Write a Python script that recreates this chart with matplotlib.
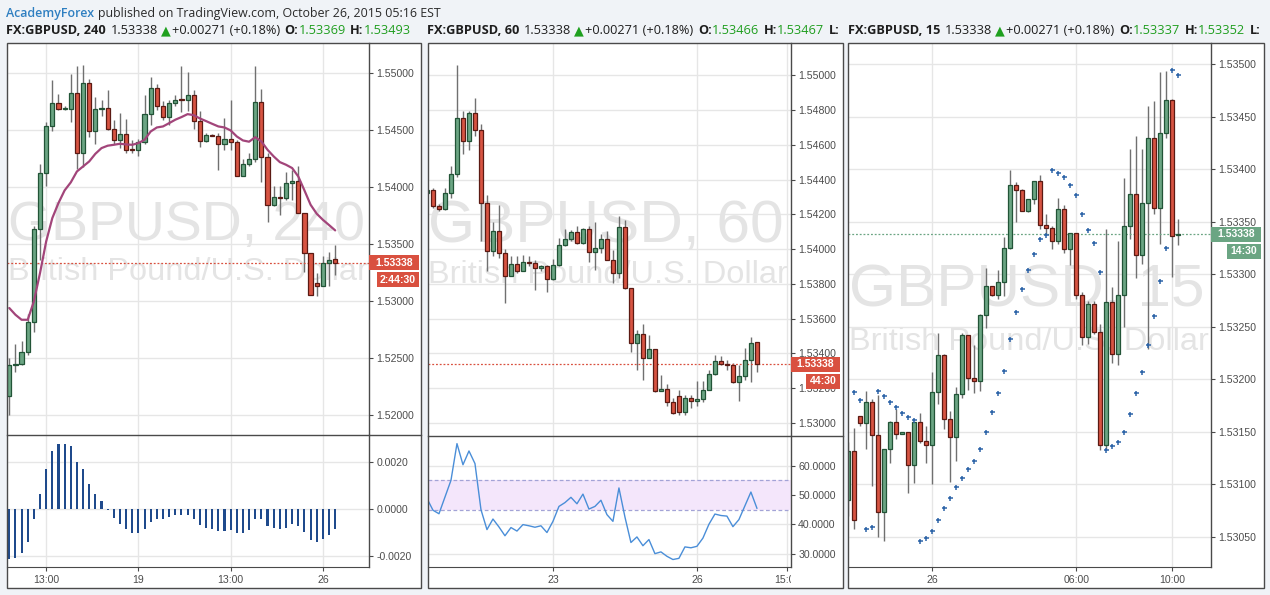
import numpy as np
import matplotlib
matplotlib.use('Agg')
import matplotlib.pyplot as plt
from matplotlib.patches import Rectangle
from matplotlib.lines import Line2D
from matplotlib.transforms import Bbox, TransformedBbox

# ---------------- DATA ----------------
# 240-minute panel
p240_open = [1.52167, 1.52444, 1.52450, 1.52556, 1.52819, 1.53637, 1.54126, 1.54538, 1.54740, 1.54687,
             1.54687, 1.54827, 1.54301, 1.54915, 1.54494, 1.54687, 1.54696, 1.54512, 1.54418, 1.54468,
             1.54336, 1.54330, 1.54395, 1.54643, 1.54871, 1.54711, 1.54617, 1.54740, 1.54769, 1.54769,
             1.54813, 1.54585, 1.54406, 1.54459, 1.54447, 1.54380, 1.54427, 1.54398, 1.54102, 1.54205,
             1.54251, 1.54748, 1.54263, 1.53845, 1.53915, 1.53906, 1.54038, 1.54053, 1.53775, 1.53424,
             1.53158, 1.53131, 1.53336, 1.53369]
p240_high = [1.52503, 1.52629, 1.52649, 1.52892, 1.53658, 1.54207, 1.54570, 1.54939, 1.54822, 1.54711,
             1.54997, 1.55061, 1.55076, 1.54953, 1.54792, 1.54769, 1.54857, 1.54594, 1.54652, 1.54599,
             1.54418, 1.54424, 1.54813, 1.54965, 1.54909, 1.54760, 1.54769, 1.54813, 1.55061, 1.55009,
             1.54857, 1.54667, 1.54477, 1.54465, 1.54477, 1.54608, 1.54769, 1.54418, 1.54248, 1.54306,
             1.55061, 1.54865, 1.54306, 1.54009, 1.54009, 1.54132, 1.54155, 1.54190, 1.53775, 1.53424,
             1.53248, 1.53395, 1.53430, 1.53493]
p240_low = [1.52006, 1.52377, 1.52444, 1.52532, 1.52731, 1.53365, 1.54009, 1.54491, 1.54675, 1.54681,
            1.54570, 1.54161, 1.54175, 1.54441, 1.54383, 1.54623, 1.54500, 1.54383, 1.54345, 1.54301,
            1.54301, 1.54278, 1.54383, 1.54550, 1.54675, 1.54594, 1.54547, 1.54711, 1.54658, 1.54667,
            1.54512, 1.54351, 1.54395, 1.54447, 1.54149, 1.54330, 1.54330, 1.54097, 1.54097, 1.54190,
            1.54219, 1.54044, 1.53693, 1.53833, 1.53760, 1.53892, 1.53886, 1.53775, 1.53254, 1.53055,
            1.53044, 1.53131, 1.53131, 1.53234]
p240_close = [1.52444, 1.52450, 1.52556, 1.52819, 1.53637, 1.54126, 1.54538, 1.54740, 1.54687, 1.54690,
              1.54827, 1.54301, 1.54915, 1.54494, 1.54687, 1.54696, 1.54512, 1.54418, 1.54468, 1.54330,
              1.54330, 1.54395, 1.54643, 1.54871, 1.54711, 1.54617, 1.54740, 1.54769, 1.54763, 1.54813,
              1.54585, 1.54406, 1.54459, 1.54453, 1.54380, 1.54427, 1.54398, 1.54102, 1.54205, 1.54251,
              1.54748, 1.54263, 1.53845, 1.53915, 1.53906, 1.54038, 1.54053, 1.53775, 1.53424, 1.53055,
              1.53131, 1.53336, 1.53365, 1.53338]
p240_ma = [1.52942, 1.52883, 1.52839, 1.52839, 1.53000, 1.53249, 1.53526, 1.53731, 1.53863, 1.53974,
           1.54044, 1.54140, 1.54184, 1.54228, 1.54295, 1.54345, 1.54366, 1.54374, 1.54383, 1.54377,
           1.54374, 1.54389, 1.54418, 1.54491, 1.54526, 1.54535, 1.54564, 1.54594, 1.54617, 1.54643,
           1.54634, 1.54605, 1.54582, 1.54558, 1.54535, 1.54526, 1.54500, 1.54447, 1.54412, 1.54401,
           1.54441, 1.54403, 1.54330, 1.54272, 1.54222, 1.54199, 1.54170, 1.54096, 1.53974, 1.53848,
           1.53769, 1.53716, 1.53670, 1.53623]
p240_hist = [-0.00214, -0.00210, -0.00189, -0.00143, -0.00043, 0.00066, 0.00173, 0.00250, 0.00280, 0.00280,
             0.00271, 0.00200, 0.00173, 0.00109, 0.00066, 0.00033, -0.00006, -0.00040, -0.00063, -0.00087,
             -0.00104, -0.00104, -0.00087, -0.00057, -0.00043, -0.00044, -0.00036, -0.00027, -0.00027, -0.00027,
             -0.00044, -0.00070, -0.00083, -0.00086, -0.00096, -0.00096, -0.00091, -0.00104, -0.00104, -0.00091,
             -0.00044, -0.00044, -0.00074, -0.00083, -0.00086, -0.00079, -0.00066, -0.00074, -0.00100, -0.00134,
             -0.00143, -0.00130, -0.00109, -0.00087]
p240_xticks = [6, 21, 36, 51]
p240_xlabels = ['13:00', '19', '13:00', '26']
p240_yticks = [1.52, 1.525, 1.53, 1.535, 1.54, 1.545, 1.55]
p240_hticks = [-0.002, 0.0, 0.002]

# 60-minute panel
p60_open = [1.54323, 1.54342, 1.54250, 1.54231, 1.54323, 1.54432, 1.54755, 1.54622, 1.54783, 1.54687,
            1.54266, 1.53990, 1.54105, 1.53978, 1.53844, 1.53915, 1.53873, 1.53926, 1.53920, 1.53892,
            1.53905, 1.53828, 1.53909, 1.54024, 1.54059, 1.54099, 1.54036, 1.54116, 1.53984, 1.54007,
            1.54059, 1.53940, 1.53863, 1.54128, 1.53777, 1.53460, 1.53514, 1.53374, 1.53426, 1.53182,
            1.53196, 1.53119, 1.53154, 1.53063, 1.53144, 1.53125, 1.53138, 1.53192, 1.53282, 1.53357,
            1.53339, 1.53336, 1.53236, 1.53272, 1.53364, 1.53466]
p60_high = [1.54346, 1.54350, 1.54262, 1.54352, 1.54477, 1.55061, 1.54797, 1.54793, 1.54870, 1.54722,
            1.54314, 1.54154, 1.54256, 1.54001, 1.53959, 1.53963, 1.53968, 1.53959, 1.53940, 1.53911,
            1.53911, 1.53945, 1.54064, 1.54116, 1.54112, 1.54135, 1.54120, 1.54131, 1.54154, 1.54089,
            1.54106, 1.53997, 1.54189, 1.54166, 1.53777, 1.53537, 1.53572, 1.53508, 1.53426, 1.53278,
            1.53226, 1.53144, 1.53188, 1.53161, 1.53163, 1.53240, 1.53240, 1.53307, 1.53393, 1.53387,
            1.53364, 1.53345, 1.53336, 1.53432, 1.53493, 1.53467]
p60_low = [1.54319, 1.54237, 1.54218, 1.54227, 1.54294, 1.54415, 1.54549, 1.54569, 1.54649, 1.54045,
           1.53873, 1.53959, 1.53949, 1.53690, 1.53844, 1.53863, 1.53873, 1.53901, 1.53763, 1.53873,
           1.53754, 1.53825, 1.53905, 1.54020, 1.54045, 1.54032, 1.54032, 1.53924, 1.53882, 1.53978,
           1.53936, 1.53805, 1.53834, 1.53771, 1.53407, 1.53307, 1.53249, 1.53374, 1.53178, 1.53182,
           1.53100, 1.53054, 1.53048, 1.53048, 1.53086, 1.53096, 1.53119, 1.53188, 1.53278, 1.53336,
           1.53307, 1.53230, 1.53125, 1.53249, 1.53236, 1.53294]
p60_close = [1.54339, 1.54250, 1.54231, 1.54323, 1.54432, 1.54755, 1.54622, 1.54783, 1.54687, 1.54266,
             1.53990, 1.54105, 1.53978, 1.53844, 1.53915, 1.53873, 1.53926, 1.53920, 1.53892, 1.53905,
             1.53828, 1.53909, 1.54024, 1.54059, 1.54099, 1.54036, 1.54116, 1.53984, 1.54007, 1.54059,
             1.53940, 1.53863, 1.54128, 1.53777, 1.53460, 1.53514, 1.53374, 1.53426, 1.53182, 1.53196,
             1.53119, 1.53058, 1.53063, 1.53144, 1.53125, 1.53138, 1.53192, 1.53282, 1.53357, 1.53339,
             1.53336, 1.53236, 1.53272, 1.53364, 1.53460, 1.53338]
p60_rsi = [48.8, 44.8, 43.6, 49.3, 55.0, 67.5, 60.3, 65.0, 60.7, 45.0,
           38.2, 41.8, 39.1, 36.1, 38.9, 37.7, 39.9, 39.5, 39.0, 39.5,
           37.2, 41.0, 46.1, 47.4, 49.2, 47.0, 50.3, 45.2, 46.1, 48.2,
           43.3, 41.0, 52.4, 42.5, 33.8, 35.7, 32.7, 34.8, 30.0, 30.6,
           29.1, 28.0, 28.4, 32.3, 32.0, 32.5, 35.3, 40.0, 43.5, 43.0,
           42.8, 39.2, 41.6, 46.3, 51.0, 45.5]
p60_xticks = [21, 45, 60]
p60_xlabels = ['23', '26', '15:00']
p60_yticks = [1.530, 1.532, 1.534, 1.536, 1.538, 1.540, 1.542, 1.544, 1.546, 1.548, 1.550]
p60_rticks = [30, 40, 50, 60]
p60_band = [45, 55]

# 15-minute panel
p15_open = [1.53085, 1.53131, 1.53165, 1.53158, 1.53178, 1.53147, 1.53073, 1.53133, 1.53159, 1.53148,
            1.53150, 1.53118, 1.53159, 1.53141, 1.53137, 1.53188, 1.53223, 1.53162, 1.53145, 1.53186,
            1.53242, 1.53201, 1.53198, 1.53261, 1.53289, 1.53280, 1.53292, 1.53325, 1.53385, 1.53380,
            1.53360, 1.53371, 1.53389, 1.53347, 1.53344, 1.53331, 1.53362, 1.53324, 1.53339, 1.53280,
            1.53240, 1.53271, 1.53245, 1.53137, 1.53273, 1.53224, 1.53280, 1.53346, 1.53376, 1.53318,
            1.53368, 1.53430, 1.53363, 1.53434, 1.53466, 1.53337]
p15_high = [1.53140, 1.53153, 1.53165, 1.53189, 1.53181, 1.53185, 1.53133, 1.53160, 1.53171, 1.53150,
            1.53150, 1.53159, 1.53168, 1.53155, 1.53207, 1.53244, 1.53224, 1.53170, 1.53192, 1.53244,
            1.53242, 1.53232, 1.53262, 1.53306, 1.53289, 1.53304, 1.53335, 1.53399, 1.53388, 1.53381,
            1.53371, 1.53389, 1.53394, 1.53357, 1.53346, 1.53372, 1.53366, 1.53339, 1.53339, 1.53283,
            1.53274, 1.53274, 1.53252, 1.53343, 1.53288, 1.53331, 1.53391, 1.53419, 1.53431, 1.53419,
            1.53460, 1.53465, 1.53492, 1.53493, 1.53467, 1.53352]
p15_low = [1.53070, 1.53057, 1.53155, 1.53133, 1.53098, 1.53050, 1.53046, 1.53120, 1.53143, 1.53148,
           1.53091, 1.53101, 1.53139, 1.53120, 1.53100, 1.53176, 1.53152, 1.53102, 1.53122, 1.53182,
           1.53190, 1.53187, 1.53189, 1.53249, 1.53279, 1.53276, 1.53279, 1.53324, 1.53350, 1.53360,
           1.53359, 1.53367, 1.53343, 1.53338, 1.53324, 1.53329, 1.53320, 1.53309, 1.53276, 1.53232,
           1.53233, 1.53243, 1.53132, 1.53132, 1.53215, 1.53213, 1.53250, 1.53333, 1.53296, 1.53310,
           1.53229, 1.53357, 1.53329, 1.53430, 1.53297, 1.53328]
p15_close = [1.53131, 1.53066, 1.53158, 1.53178, 1.53147, 1.53073, 1.53133, 1.53159, 1.53148, 1.53150,
             1.53118, 1.53159, 1.53141, 1.53137, 1.53188, 1.53223, 1.53162, 1.53145, 1.53186, 1.53242,
             1.53201, 1.53198, 1.53261, 1.53289, 1.53280, 1.53292, 1.53325, 1.53385, 1.53380, 1.53360,
             1.53371, 1.53389, 1.53347, 1.53344, 1.53331, 1.53362, 1.53324, 1.53339, 1.53280, 1.53240,
             1.53271, 1.53245, 1.53137, 1.53273, 1.53224, 1.53280, 1.53346, 1.53376, 1.53318, 1.53368,
             1.53430, 1.53363, 1.53434, 1.53466, 1.53336, 1.53338]
p15_psar = [np.nan, 1.53188, 1.53180, 1.53057, 1.53059, 1.53189, 1.53184, 1.53178, 1.53173, 1.53168,
            1.53164, 1.53161, 1.53046, 1.53049, 1.53055, 1.53066, 1.53077, 1.53087, 1.53097, 1.53106,
            1.53114, 1.53122, 1.53133, 1.53150, 1.53169, 1.53187, 1.53208, 1.53238, 1.53264, 1.53286,
            1.53304, 1.53319, 1.53333, 1.53337, 1.53399, 1.53396, 1.53392, 1.53385, 1.53375, 1.53357,
            1.53342, 1.53330, 1.53302, 1.53132, 1.53136, 1.53140, 1.53150, 1.53167, 1.53187, 1.53207,
            1.53232, 1.53260, 1.53293, 1.53325, 1.53494, 1.53490]
p15_xticks = [14, 38, 54]
p15_xlabels = ['26', '06:00', '10:00']
p15_yticks = [1.5305, 1.5310, 1.5315, 1.5320, 1.5325, 1.5330, 1.5335, 1.5340, 1.5345, 1.5350]

last_price = 1.53338
timers = ['2:44:30', '44:30', '14:30']

# ---------------- STYLE ----------------
W, H = 1270, 595
BG = '#f0f3f7'
GREEN, GREEN_E = '#6ba583', '#225437'
RED, RED_E = '#d75442', '#5b1a13'
WICK = '#707070'
GRID = '#e6e6e6'
AXC = '#4a4a4a'
LBL = '#4d4d4d'
WM = '#e4e4e4'
TXT = '#1e1e1e'
VALG = '#1f9e1f'

plt.rcParams['font.family'] = ['Liberation Sans', 'DejaVu Sans']

fig = plt.figure(figsize=(W / 100, H / 100), dpi=100, facecolor=BG)


def fbox(x0, y0, x1, y1):
    return [x0 / W, 1 - y1 / H, (x1 - x0) / W, (y1 - y0) / H]


def fig_line(x0, y0, x1, y1, color=AXC, lw=1.0):
    fig.add_artist(Line2D([x0 / W, x1 / W], [1 - y0 / H, 1 - y1 / H], transform=fig.transFigure,
                          color=color, lw=lw, zorder=6))


def panel_box(x0, x1, y0=43, y1=588):
    fig.add_artist(Rectangle((x0 / W, 1 - y1 / H), (x1 - x0) / W, (y1 - y0) / H, transform=fig.transFigure,
                             facecolor='white', edgecolor='none', zorder=-2))
    fig.add_artist(Rectangle((x0 / W, 1 - y1 / H), (x1 - x0) / W, (y1 - y0) / H, transform=fig.transFigure,
                             facecolor='none', edgecolor=AXC, lw=1.0, zorder=7))


def style_axes(ax, xlim, ylim, xticks, yticks, yfmt, bottom=False, xlabels=None):
    ax.set_facecolor('white')
    ax.set_xlim(*xlim)
    ax.set_ylim(*ylim)
    ax.yaxis.tick_right()
    ax.set_yticks(yticks)
    ax.set_yticklabels([yfmt.format(v) for v in yticks])
    ax.set_xticks(xticks)
    for s in ['left', 'top', 'bottom']:
        ax.spines[s].set_visible(False)
    ax.spines['right'].set_color(AXC)
    ax.spines['right'].set_linewidth(1.0)
    ax.tick_params(axis='y', direction='out', length=3, width=0.8, color=AXC, pad=2.5,
                   labelsize=7.6, labelcolor=LBL)
    if bottom:
        ax.spines['bottom'].set_visible(True)
        ax.spines['bottom'].set_color(AXC)
        ax.set_xticklabels(xlabels)
        ax.tick_params(axis='x', direction='out', length=3, width=0.8, color=AXC, pad=3,
                       labelsize=7.6, labelcolor=LBL)
    else:
        ax.tick_params(axis='x', length=0, labelbottom=False)
    ax.grid(True, color=GRID, lw=1.0)
    ax.set_axisbelow(True)


def draw_candles(ax, o, h, l, c, width, minh):
    o, h, l, c = map(np.asarray, (o, h, l, c))
    x = np.arange(len(o))
    up = c >= o
    ax.vlines(x, l, h, color=WICK, lw=1.0, zorder=2)
    bottoms = np.minimum(o, c)
    heights = np.maximum(np.abs(c - o), minh)
    ax.bar(x[up], heights[up], width, bottoms[up], color=GREEN, edgecolor=GREEN_E, lw=0.9, zorder=3)
    ax.bar(x[~up], heights[~up], width, bottoms[~up], color=RED, edgecolor=RED_E, lw=0.9, zorder=3)


def watermark(ax, box, x_px, base1, base2, title, size1):
    ax_x0, ax_y0, ax_x1, ax_y1 = box
    def ax_coords(xp, yp):
        return (xp - ax_x0) / (ax_x1 - ax_x0), 1 - (yp - ax_y0) / (ax_y1 - ax_y0)
    xa, ya = ax_coords(x_px, base1)
    ax.text(xa, ya, title, transform=ax.transAxes, fontsize=size1, color=WM, va='baseline', ha='left',
            family='Liberation Sans', zorder=0.8, clip_on=True)
    xa, ya = ax_coords(x_px, base2)
    ax.text(xa, ya, 'British Pound/U.S. Dollar', transform=ax.transAxes, fontsize=23.4, color=WM,
            va='baseline', ha='left', family='Liberation Sans', zorder=0.8, clip_on=True)


def price_labels(ax, price, x_axis_px, right_px, w2, color, timer):
    fig.canvas.draw()
    _, yd = ax.transData.transform((0, price))
    inv = fig.transFigure.inverted()
    hbox = 15
    y_top = H - yd - hbox / 2  # pixel from top
    def rect(x0, x1, yt, yb, txt):
        (fx0, fy0) = inv.transform((x0, H - yb))
        (fx1, fy1) = inv.transform((x1, H - yt))
        fig.add_artist(Rectangle((fx0, fy0), fx1 - fx0, fy1 - fy0, transform=fig.transFigure,
                                 facecolor=color, edgecolor='none', zorder=8))
        fig.text((fx0 + fx1) / 2, (fy0 + fy1) / 2, txt, ha='center', va='center', color='white',
                 fontsize=7.6, fontweight='bold', zorder=9)
    rect(x_axis_px, right_px, y_top, y_top + hbox, '{:.5f}'.format(price))
    rect(right_px - w2, right_px, y_top + hbox + 2, y_top + 2 * hbox + 2, timer)
    ax.axhline(price, color=color, lw=0.9, ls=(0, (1.5, 1.5)), zorder=2.5)


def header(x0, x1, y0, y1, pieces, size):
    hax = fig.add_axes(fbox(x0, y0, x1, y1))
    hax.axis('off')
    hax.set_xlim(0, 1)
    hax.set_ylim(0, 1)
    prev = None
    for s, weight, color, gap, fam in pieces:
        kw = dict(fontsize=size, fontweight=weight, color=color, family=fam, va='center', ha='left')
        if prev is None:
            t = hax.text(0, 0.5, s, clip_on=True, **kw)
        else:
            t = hax.annotate(s, xy=(1, 0.5), xycoords=prev, xytext=(gap, 0), textcoords='offset points',
                             annotation_clip=False, **kw)
            t.set_clip_on(True)
            t.set_clip_path(hax.patch)
        prev = t


OS = ['Open Sans', 'DejaVu Sans']
TRI = ['DejaVu Sans']

# ---------- line 1 ----------
header(6, 1260, 4, 22, [
    ('AcademyForex', 'semibold', '#2f7fc1', 0, OS),
    ('published on TradingView.com, October 26, 2015 05:16 EST', 'normal', '#2a2a2a', 2.5, OS),
], 8.95)


def ohlc_header(x0, x1, name, o, h, show_low_label=True):
    pieces = [
        (name, 'bold', TXT, 0, OS),
        ('{:.5f}'.format(last_price), 'normal', TXT, 3.3, OS),
        ('\u25b2', 'normal', '#1fa01f', 2.2, TRI),
        ('+0.00271 (+0.18%)', 'normal', TXT, 1.0, OS),
        ('O:', 'bold', TXT, 3.3, OS),
        ('{:.5f}'.format(o), 'normal', VALG, 0, OS),
        ('H:', 'bold', TXT, 3.3, OS),
        ('{:.5f}'.format(h), 'normal', VALG, 0, OS),
    ]
    if show_low_label:
        pieces += [('L:', 'bold', TXT, 3.3, OS)]
    header(x0, x1, 22, 40, pieces, 9.2)


ohlc_header(6, 421, 'FX:GBPUSD, 240', p240_open[-1], p240_high[-1], show_low_label=False)
ohlc_header(427, 842, 'FX:GBPUSD, 60', p60_open[-1], p60_high[-1])
ohlc_header(848, 1265, 'FX:GBPUSD, 15', p15_open[-1], p15_high[-1])

# ---------- panel 1 (240) ----------
panel_box(7, 421)
b1 = (7, 43, 369, 435)
ax1 = fig.add_axes(fbox(*b1))
x1lim = (-0.37, 58.5)
style_axes(ax1, x1lim, (1.51828, 1.55267), p240_xticks, p240_yticks, '{:.5f}')
watermark(ax1, b1, 8, 240, 280, 'GBPUSD, 240', 40)
draw_candles(ax1, p240_open, p240_high, p240_low, p240_close, 0.68, 0.00009)
ax1.plot(np.arange(len(p240_ma)), p240_ma, color='#a2457a', lw=1.6, zorder=4, solid_capstyle='round')

b1i = (7, 435, 369, 567)
ax1i = fig.add_axes(fbox(*b1i))
style_axes(ax1i, x1lim, (-0.00248, 0.00317), p240_xticks, p240_hticks, '{:.4f}', bottom=True,
           xlabels=p240_xlabels)
ax1i.bar(np.arange(len(p240_hist)), p240_hist, 0.34, color='#1f4a8c', zorder=3)
fig_line(7, 435, 421, 435)

# ---------- panel 2 (60) ----------
panel_box(427.5, 843)
b2 = (427.7, 43, 790.5, 436)
ax2 = fig.add_axes(fbox(*b2))
x2lim = (0.12, 60.6)
style_axes(ax2, x2lim, (1.52925, 1.55186), p60_xticks, p60_yticks, '{:.5f}')
watermark(ax2, b2, 428, 243, 283, 'GBPUSD, 60', 43.5)
draw_candles(ax2, p60_open, p60_high, p60_low, p60_close, 0.68, 0.00006)

b2i = (427.7, 436, 790.5, 567)
ax2i = fig.add_axes(fbox(*b2i))
style_axes(ax2i, x2lim, (25.45, 70.1), p60_xticks, p60_rticks, '{:.4f}', bottom=True, xlabels=p60_xlabels)
ax2i.axhspan(p60_band[0], p60_band[1], color='#f4e6fb', zorder=0.6, lw=0)
for v in p60_band:
    ax2i.axhline(v, color='#a3a3d6', lw=0.9, ls=(0, (3, 2)), zorder=0.7)
ax2i.plot(np.arange(len(p60_rsi)), p60_rsi, color='#4a8ed8', lw=1.0, zorder=3)
clipbox = TransformedBbox(Bbox([[0, -2], [1, 2]]), ax2i.transAxes)
for lab in ax2i.get_xticklabels():
    lab.set_clip_on(True)
    lab.set_clip_box(clipbox)
fig_line(427.5, 436, 843, 436)

# ---------- panel 3 (15) ----------
panel_box(848, 1263.5)
b3 = (848.3, 43, 1211, 567)
ax3 = fig.add_axes(fbox(*b3))
style_axes(ax3, (0.0, 60.45), (1.53021, 1.53520), p15_xticks, p15_yticks, '{:.5f}', bottom=True,
           xlabels=p15_xlabels)
watermark(ax3, b3, 849, 306.7, 350, 'GBPUSD, 15', 43.5)
draw_candles(ax3, p15_open, p15_high, p15_low, p15_close, 0.68, 0.000012)
ax3.plot(np.arange(len(p15_psar)), p15_psar, ls='none', marker='+', ms=3.6, mew=1.1, color='#2d64a8',
         zorder=4)

# ---------- last price labels ----------
price_labels(ax1, last_price, 369, 418.5, 42, '#d9503f', timers[0])
price_labels(ax2, last_price, 790.5, 840, 34, '#d9503f', timers[1])
price_labels(ax3, last_price, 1211, 1261, 34, '#6ba583', timers[2])

fig.savefig('out.png', dpi=100, facecolor=BG)
